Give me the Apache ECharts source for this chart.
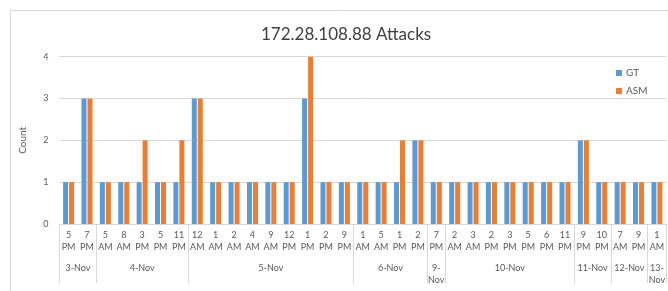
<!DOCTYPE html>
<html lang="en">
    <head>
        <meta charset="utf-8" />
        <title>172.28.108.88 Attacks</title>
        <style>
            * {
                margin: 0;
                padding: 0;
            }
            html,
            body {
                width: 100%;
                height: 100%;
                background: #fff;
            }
            #chart {
                width: 668px;
                height: 291px;
            }
        </style>
    </head>
    <body>
        <div id="chart"></div>
        <script src="https://cdn.jsdelivr.net/npm/echarts@6/dist/echarts.min.js"></script>
        <script>
            // date groups and how many time slots each one holds
            const days = ['3-Nov', '4-Nov', '5-Nov', '6-Nov', '9-\nNov', '10-Nov', '11-Nov', '12-Nov', '13-\nNov']
            const daySizes = [2, 5, 9, 4, 1, 7, 2, 2, 1]
            const times = [
                '5 PM', '7 PM',
                '5 AM', '8 AM', '3 PM', '5 PM', '11 PM',
                '12 AM', '1 AM', '2 AM', '4 AM', '9 AM', '12 PM', '1 PM', '2 PM', '9 PM',
                '1 AM', '5 AM', '1 PM', '2 PM',
                '7 PM',
                '2 AM', '3 AM', '2 PM', '3 PM', '5 PM', '6 PM', '11 PM',
                '9 PM', '10 PM',
                '7 AM', '9 PM',
                '1 AM',
            ]
            const gt = [1, 3, 1, 1, 1, 1, 1, 3, 1, 1, 1, 1, 1, 3, 1, 1, 1, 1, 1, 2, 1, 1, 1, 1, 1, 1, 1, 1, 2, 1, 1, 1, 1]
            const asm = [1, 3, 1, 1, 2, 1, 2, 3, 1, 1, 1, 1, 1, 4, 1, 1, 1, 1, 2, 2, 1, 1, 1, 1, 1, 1, 1, 1, 2, 1, 1, 1, 1]

            const font = 'Lato, "Noto Sans", sans-serif'
            const textColor = '#595959'
            const lineColor = '#d9d9d9'

            // where each day starts, and which slot carries its label
            const starts = []
            const labelAt = {}
            let pos = 0
            daySizes.forEach((n, i) => {
                starts.push(pos)
                labelAt[pos + Math.floor((n - 1) / 2)] = { text: days[i], half: n % 2 === 0 }
                pos += n
            })

            const chart = echarts.init(document.getElementById('chart'))
            chart.setOption({
                animation: false,
                textStyle: { fontFamily: font },
                title: {
                    text: '172.28.108.88 Attacks',
                    left: 256,
                    top: 21,
                    textStyle: { fontFamily: font, fontSize: 17, fontWeight: 'normal', color: '#404040' },
                },
                legend: {
                    orient: 'vertical',
                    left: 611,
                    top: 63,
                    itemWidth: 6,
                    itemHeight: 6,
                    itemGap: 8,
                    icon: 'rect',
                    textStyle: { fontFamily: font, fontSize: 10, color: textColor, padding: [0, 0, 0, -1] },
                    data: ['GT', 'ASM'],
                },
                graphic: [
                    {
                        type: 'rect',
                        shape: { x: 10.5, y: 10.5, width: 700, height: 300 },
                        style: { fill: 'none', stroke: lineColor, lineWidth: 1 },
                        silent: true,
                    },
                ],
                grid: { left: 59.4, top: 56.7, width: 612.5, height: 167.3 },
                xAxis: [
                    {
                        type: 'category',
                        data: times,
                        axisLine: { lineStyle: { color: lineColor } },
                        axisTick: { show: false },
                        axisLabel: {
                            interval: 0,
                            margin: 5,
                            fontSize: 9,
                            lineHeight: 12,
                            color: textColor,
                            formatter: (v) => v.replace(' ', '\n'),
                        },
                    },
                    {
                        type: 'category',
                        position: 'bottom',
                        data: times.map((t, i) => String(i)),
                        axisLine: { show: false },
                        axisTick: {
                            show: true,
                            length: 59,
                            interval: (i) => starts.includes(i),
                            lineStyle: { color: lineColor },
                        },
                        axisLabel: {
                            interval: 0,
                            margin: 38,
                            fontSize: 9,
                            lineHeight: 12,
                            color: textColor,
                            formatter: (v) => {
                                const l = labelAt[+v]
                                if (!l) return ''
                                return l.half ? '{h|' + l.text + '}' : l.text
                            },
                            rich: {
                                h: { padding: [0, 0, 0, 18.56], fontSize: 9, color: textColor, fontFamily: font },
                            },
                        },
                    },
                ],
                yAxis: {
                    type: 'value',
                    min: 0,
                    max: 4,
                    interval: 1,
                    name: 'Count',
                    nameLocation: 'middle',
                    nameRotate: 90,
                    nameGap: 32,
                    nameTextStyle: { fontFamily: font, fontSize: 10, color: textColor },
                    axisLine: { show: false },
                    axisTick: { show: false },
                    axisLabel: { margin: 11, fontSize: 9, color: textColor },
                    splitLine: { lineStyle: { color: lineColor } },
                },
                series: [
                    {
                        name: 'GT',
                        type: 'bar',
                        data: gt,
                        barWidth: 5,
                        barGap: '20%',
                        itemStyle: { color: '#5b9bd5' },
                        emphasis: { disabled: true },
                    },
                    {
                        name: 'ASM',
                        type: 'bar',
                        data: asm,
                        barWidth: 5,
                        itemStyle: { color: '#ed7d31' },
                        emphasis: { disabled: true },
                    },
                ],
            })
        </script>
    </body>
</html>
